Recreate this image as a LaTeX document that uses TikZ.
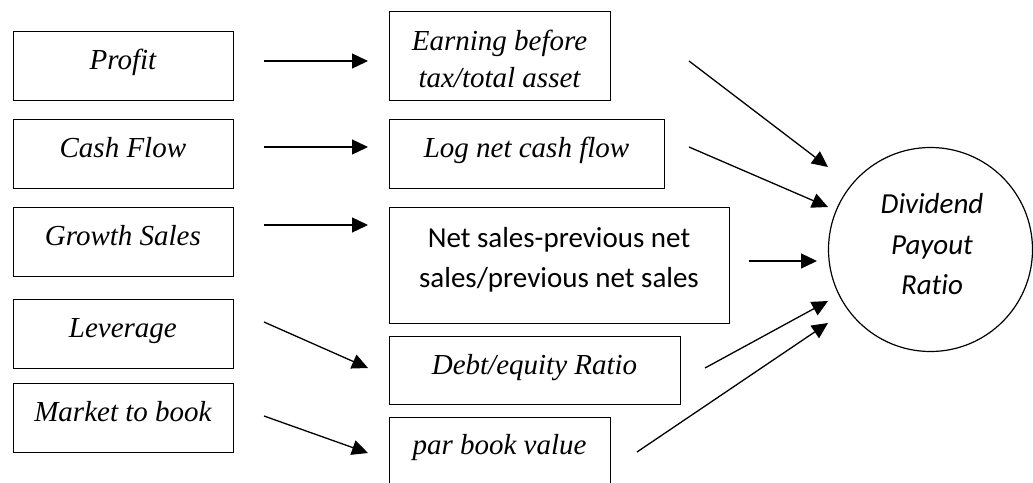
\documentclass[tikz,border=0pt]{standalone}
\usepackage{fontspec}
\setmainfont{Liberation Serif}
\newfontfamily\calibrifont[Ligatures={NoCommon}]{Carlito}
\usetikzlibrary{arrows.meta}
\begin{document}
\begin{tikzpicture}[x=1pt,y=-1pt,
  box/.style={draw, line width=1.2pt, rectangle, inner sep=0pt, anchor=north west},
  lbl/.style={font=\fontsize{29}{34}\selectfont\itshape, anchor=base, inner sep=0pt},
  clbl/.style={font=\fontsize{29}{34}\selectfont\calibrifont, anchor=base, inner sep=0pt},
  cilbl/.style={font=\fontsize{29}{34}\selectfont\calibrifont\itshape, anchor=base, inner sep=0pt},
  arr/.style={line width=1.3pt, -{Triangle[length=16pt,width=15pt]}}]
\useasboundingbox (0,0) rectangle (1033,482);
\clip (0,0) rectangle (1033,482);
% left boxes
\node[box, minimum width=220.3pt, minimum height=69pt] (profit) at (12.7,31) {};
\node[box, minimum width=220.3pt, minimum height=69pt] (cash) at (12.7,119) {};
\node[box, minimum width=220.3pt, minimum height=69pt] (growth) at (12.7,207) {};
\node[box, minimum width=220.3pt, minimum height=69pt] (lev) at (12.7,299) {};
\node[box, minimum width=220.3pt, minimum height=69pt] (mtb) at (12.7,383) {};
\node[lbl] (profitT) at (122.9,69) {Profit};
\node[lbl] (cashT) at (122.9,157) {Cash Flow};
\node[lbl] (growthT) at (122.9,245) {Growth Sales};
\node[lbl] (levT) at (122.9,337) {Leverage};
\node[lbl] (mtbT) at (122.9,421) {Market to book};
% middle boxes
\node[box, minimum width=221pt, minimum height=89pt] (earn) at (389,11) {};
\node[box, minimum width=275pt, minimum height=69pt] (lognet) at (389,119) {};
\node[box, minimum width=340pt, minimum height=116pt] (netsales) at (389,207) {};
\node[box, minimum width=291pt, minimum height=68pt] (debt) at (389,336) {};
\node[box, minimum width=221pt, minimum height=80pt] (par) at (389,417) {};
\node[lbl] (earnT1) at (499.5,50) {Earning before};
\node[lbl] (earnT2) at (499.5,87) {tax/total asset};
\node[lbl] (lognetT) at (526.5,157) {Log net cash flow};
\node[clbl] (netsalesT1) at (559,247) {Net sales-previous net};
\node[clbl] (netsalesT2) at (559,287) {sales/previous net sales};
\node[lbl] (debtT) at (534.5,374) {Debt/equity Ratio};
\node[lbl] (parT) at (499.5,454) {par book value};
% circle
\node[draw, circle, line width=1.2pt, minimum size=204pt, inner sep=0pt] (dpr) at (930.5,249.5) {};
\node[cilbl] (dprT1) at (932,213) {Dividend};
\node[cilbl] (dprT2) at (932,254) {Payout};
\node[cilbl] (dprT3) at (932,294) {Ratio};
% connector end points
\coordinate (s1) at (264,61);  \coordinate (e1) at (368,61);
\coordinate (s2) at (264,147); \coordinate (e2) at (368,147);
\coordinate (s3) at (264,225); \coordinate (e3) at (368,225);
\coordinate (s4) at (264,322); \coordinate (e4) at (368,368);
\coordinate (s5) at (264,416); \coordinate (e5) at (368,453);
\coordinate (t1) at (689,61);  \coordinate (f1) at (828,167);
\coordinate (t2) at (689,147); \coordinate (f2) at (828,207);
\coordinate (t3) at (749,261); \coordinate (f3) at (817,261);
\coordinate (t4) at (705,368); \coordinate (f4) at (828,301);
\coordinate (t5) at (637,452); \coordinate (f5) at (828,323);
\draw[arr] (s1) -- (e1);
\draw[arr] (s2) -- (e2);
\draw[arr] (s3) -- (e3);
\draw[arr] (s4) -- (e4);
\draw[arr] (s5) -- (e5);
\draw[arr] (t1) -- (f1);
\draw[arr] (t2) -- (f2);
\draw[arr] (t3) -- (f3);
\draw[arr] (t4) -- (f4);
\draw[arr] (t5) -- (f5);
\end{tikzpicture}
\end{document}
